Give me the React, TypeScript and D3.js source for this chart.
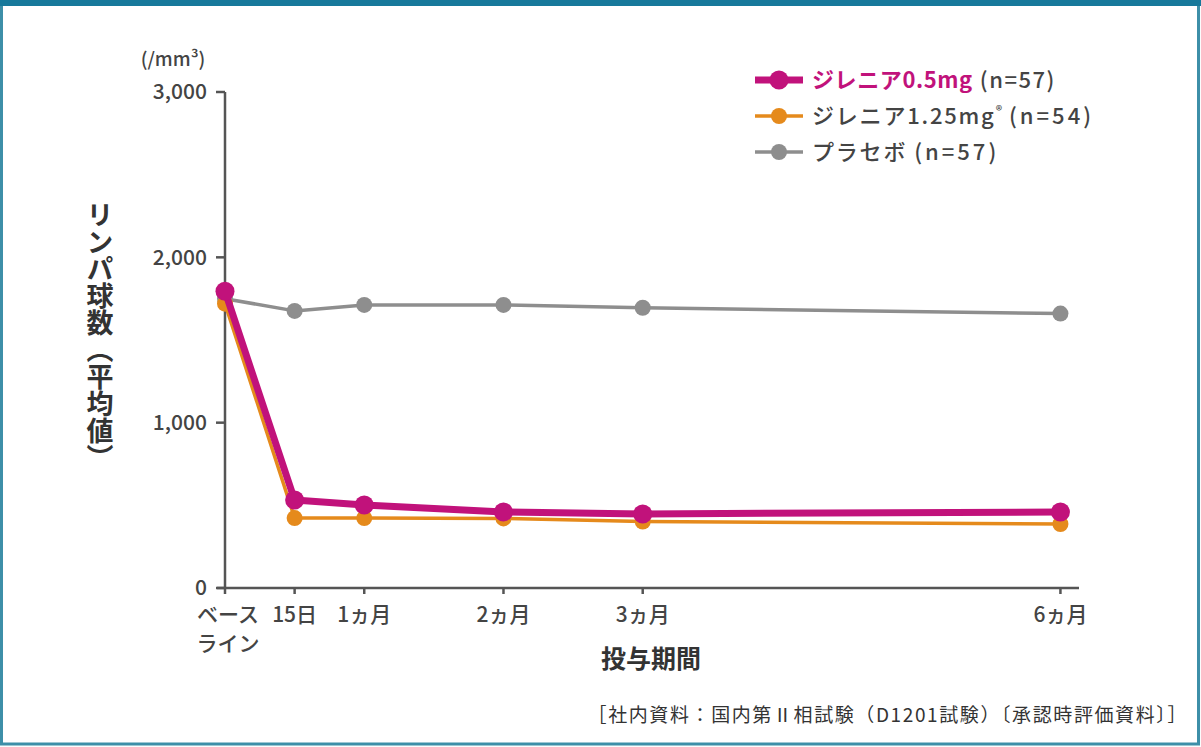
import { scaleLinear, line } from "d3";

const width = 1201;
const height = 747;

const days = [0, 15, 30, 60, 90, 180];
const tickLabels = [["ベース", "ライン"], ["15日"], ["1ヵ月"], ["2ヵ月"], ["3ヵ月"], ["6ヵ月"]];
const yTicks = [0, 1000, 2000, 3000];

const gilenya05 = [1795, 532, 502, 460, 448, 460];
const gilenya125 = [1720, 423, 423, 421, 402, 387];
const placebo = [1750, 1676, 1712, 1712, 1695, 1660];

const seriesNames = ["ジレニア0.5mg", "ジレニア1.25mg", "プラセボ"];
const seriesN = ["(n=57)", "(n=54)", "(n=57)"];
const colors = ["#c1127b", "#e58a1c", "#8e8e8e"];

const x = scaleLinear().domain([0, 184]).range([225, 1079]);
const y = scaleLinear().domain([0, 3000]).range([588, 92]);

const font = "'Noto Sans CJK JP', 'Noto Sans', sans-serif";

const App = () => {
  const path = line<number>()
    .x((_, i) => x(days[i]))
    .y((d) => y(d));

  const series = [
    { values: placebo, color: colors[2], w: 3.5, r: 8 },
    { values: gilenya125, color: colors[1], w: 3.5, r: 8 },
    { values: gilenya05, color: colors[0], w: 7, r: 9.5 },
  ];

  return (
    <div style={{ position: "absolute", left: 0, top: 0 }}>
      <svg width={width} height={height} fontFamily={font}>
        <rect x={0} y={0} width={width} height={height} fill="#fbfdfd" />
        <rect x={1.5} y={3} width={width - 4} height={height - 6} fill="#ffffff" stroke="#3d8fa8" strokeWidth={3} />
        <rect x={0} y={0} width={width} height={6} fill="#17799b" />

        {/* y axis */}
        <line x1={x(0)} x2={x(0)} y1={y(3000)} y2={y(0)} stroke="#555" strokeWidth={2.5} />
        {yTicks.map((t) => (
          <g key={t}>
            <line x1={x(0) - 9} x2={x(0)} y1={y(t)} y2={y(t)} stroke="#555" strokeWidth={2.5} />
            <text x={x(0) - 18} y={y(t)} dy="0.35em" textAnchor="end" fontSize={21} fontWeight={500} fill="#444">
              {t.toLocaleString("en-US")}
            </text>
          </g>
        ))}
        <text x={173} y={66} textAnchor="middle" fontSize={19} fontWeight={500} fill="#444">
          (/mm³)
        </text>
        <text
          x={100}
          y={336}
          textAnchor="middle"
          fontSize={27}
          fontWeight="bold"
          fill="#333"
          style={{ writingMode: "vertical-rl" }}
        >
          リンパ球数（平均値）
        </text>

        {/* x axis */}
        <line x1={x(0) - 8} x2={x(184)} y1={y(0)} y2={y(0)} stroke="#555" strokeWidth={2.5} />
        {days.map((d, i) => (
          <g key={d}>
            <line x1={x(d)} x2={x(d)} y1={y(0)} y2={y(0) + 6} stroke="#555" strokeWidth={2.5} />
            {tickLabels[i].map((s, j) => (
              <text key={j} x={x(d) + (i === 0 ? 3 : 0)} y={622 + j * 29} textAnchor="middle" fontSize={21} fontWeight={500} fill="#444">
                {s}
              </text>
            ))}
          </g>
        ))}
        <text x={651} y={668} textAnchor="middle" fontSize={25} fontWeight="bold" fill="#333">
          投与期間
        </text>

        {/* series */}
        {series.map((s, k) => (
          <g key={k}>
            <path d={path(s.values) ?? ""} fill="none" stroke={s.color} strokeWidth={s.w} strokeLinejoin="round" />
            {s.values.map((v, i) => (
              <circle key={i} cx={x(days[i])} cy={y(v)} r={s.r} fill={s.color} />
            ))}
          </g>
        ))}

        {/* legend */}
        {seriesNames.map((name, i) => {
          const ly = 80 + i * 36;
          const isMain = i === 0;
          return (
            <g key={name}>
              <line x1={755} x2={803} y1={ly} y2={ly} stroke={colors[i]} strokeWidth={isMain ? 7 : 3.5} />
              <circle cx={779} cy={ly} r={isMain ? 9.5 : 8} fill={colors[i]} />
              <text x={812} y={ly} dy="0.36em" fontSize={22} fontWeight={500} fill="#444">
                <tspan
                  fill={isMain ? colors[0] : "#444"}
                  fontWeight={isMain ? "bold" : 500}
                  letterSpacing={isMain ? 0.6 : 1.8}
                >
                  {name}
                </tspan>
                {i === 1 && (
                  <tspan fontSize={13} dy="-8">
                    ®
                  </tspan>
                )}
                <tspan dy={i === 1 ? "8" : "0"} dx="7" letterSpacing={isMain ? 1.5 : 3}>
                  {seriesN[i]}
                </tspan>
              </text>
            </g>
          );
        })}

        <text x={1188} y={722} textAnchor="end" fontSize={19} fill="#333" letterSpacing={1.6}>
          ［社内資料：国内第Ⅱ相試験（D1201試験）〔承認時評価資料〕］
        </text>
      </svg>
    </div>
  );
};

export default App;
